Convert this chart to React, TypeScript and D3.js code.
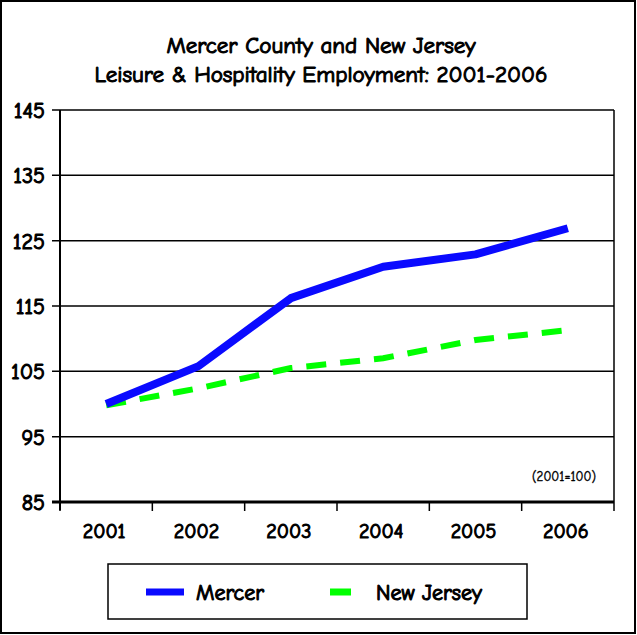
import React from "react";
import * as d3 from "d3";

const years = ["2001", "2002", "2003", "2004", "2005", "2006"];
const mercer = [100, 105.8, 116.2, 121, 122.9, 126.9];
const newJersey = [99.8, 102.4, 105.5, 107, 109.8, 111.3];
const yTicks = [85, 95, 105, 115, 125, 135, 145];
const titleLines = ["Mercer County and New Jersey", "Leisure & Hospitality Employment: 2001-2006"];
const seriesNames = ["Mercer", "New Jersey"];

const W = 637, H = 635;
const FONT = "'Comic Sans MS', 'Comic Neue', Lato, 'Noto Sans', sans-serif";
const bold = { stroke: "#000", strokeWidth: 1.1 } as const;

export default function App() {
  const left = 60, right = 614, top = 110, bottom = 502;
  const x = d3.scaleBand<string>().domain(years).range([left, right]);
  const y = d3.scaleLinear().domain([85, 145]).range([bottom, top]);
  const cx = (d: string) => (x(d) as number) + x.bandwidth() / 2;
  const line = d3.line<number>().x((_, i) => cx(years[i])).y((v) => y(v));
  const edges = [left, ...years.map((d) => (x(d) as number) + x.bandwidth())];

  return (
    <div style={{ position: "absolute", left: 0, top: 0 }}>
      <svg width={W} height={H} style={{ display: "block", background: "#fff" }}>
        <rect x={1} y={1} width={W - 3} height={H - 3} fill="#fff" stroke="#000" strokeWidth={2} />
        {titleLines.map((t, i) => (
          <text key={i} x={321} y={53 + i * 29} textAnchor="middle" fontFamily={FONT} fontSize={23} fill="#000" {...bold}>
            {t}
          </text>
        ))}
        {yTicks.map((t) => (
          <g key={t}>
            <line x1={left - 8} x2={right} y1={y(t)} y2={y(t)} stroke="#000" strokeWidth={t === 85 ? 3 : 1.5} />
            <text x={45} y={y(t) + 8} textAnchor="end" fontFamily={FONT} fontSize={22} fill="#000" {...bold}>
              {t}
            </text>
          </g>
        ))}
        <line x1={left} x2={left} y1={top} y2={bottom + 8} stroke="#000" strokeWidth={2} />
        <line x1={right} x2={right} y1={top} y2={bottom} stroke="#000" strokeWidth={1.5} />
        {edges.map((e, i) => (
          <line key={i} x1={e} x2={e} y1={bottom} y2={bottom + 9} stroke="#000" strokeWidth={1.5} />
        ))}
        {years.map((d) => (
          <text key={d} x={cx(d) - 2} y={538} textAnchor="middle" fontFamily={FONT} fontSize={20} fill="#000" {...bold}>
            {d}
          </text>
        ))}
        <text x={564} y={481} textAnchor="middle" fontFamily={FONT} fontSize={13} fill="#000" stroke="#000" strokeWidth={0.4}>
          (2001=100)
        </text>
        <path d={line(newJersey) || ""} fill="none" stroke="#00ff00" strokeWidth={6} strokeDasharray="20,14" />
        <path d={line(mercer) || ""} fill="none" stroke="#0a0aff" strokeWidth={8} strokeLinejoin="round" />
        <rect x={108} y={564} width={419} height={55} fill="#fff" stroke="#000" strokeWidth={1.5} />
        <line x1={146} x2={184} y1={592} y2={592} stroke="#0a0aff" strokeWidth={7} />
        <text x={196} y={600} fontFamily={FONT} fontSize={22} fill="#000" {...bold}>{seriesNames[0]}</text>
        <line x1={330} x2={351} y1={592} y2={592} stroke="#00ff00" strokeWidth={7} />
        <text x={376} y={600} fontFamily={FONT} fontSize={22} fill="#000" {...bold}>{seriesNames[1]}</text>
      </svg>
    </div>
  );
}
